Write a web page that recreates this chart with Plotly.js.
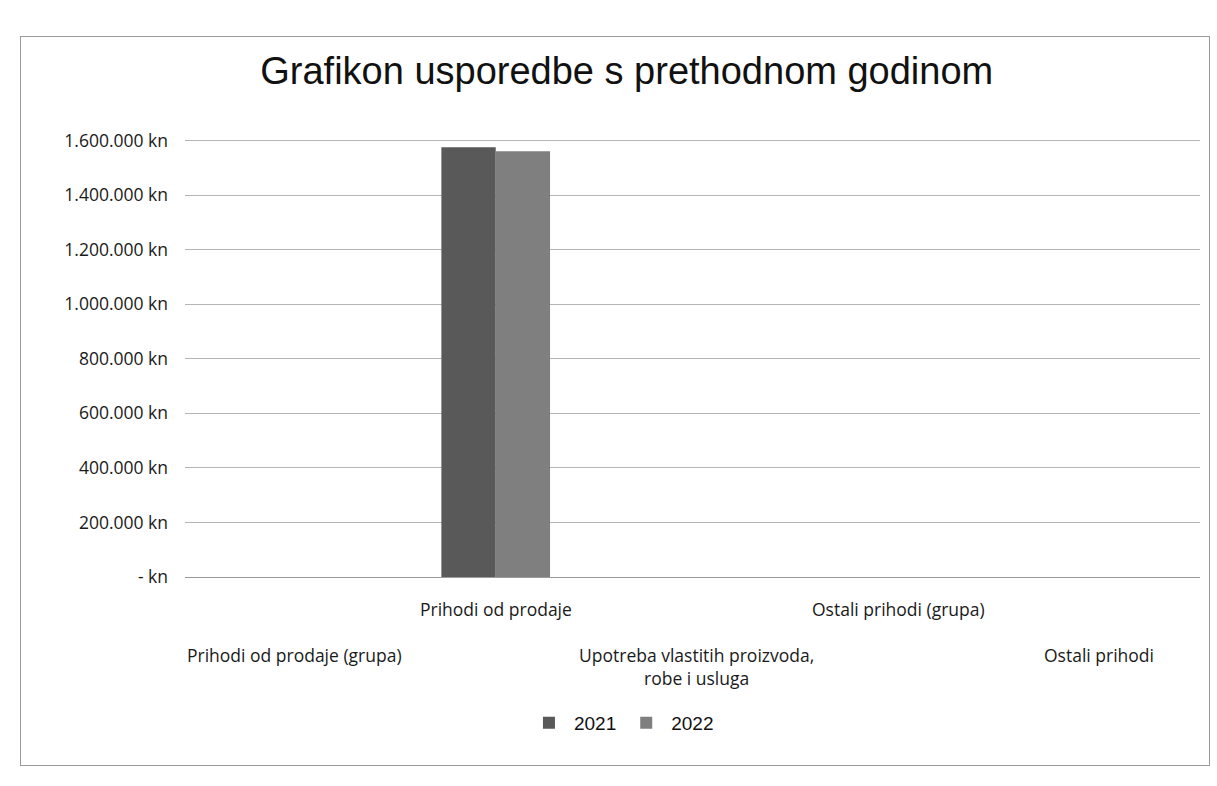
<!DOCTYPE html>
<html>
<head>
<meta charset="utf-8">
<script src="https://cdn.plot.ly/plotly-3.0.1.min.js"></script>
<style>
html,body{margin:0;padding:0;background:#fff;}
#chart{width:1217px;height:786px;position:relative;}
#frame{position:absolute;left:20px;top:36px;width:1190px;height:730px;border:1px solid #9a9a9a;pointer-events:none;box-sizing:border-box;}
</style>
</head>
<body>
<div style="position:relative;width:1217px;height:786px;">
<div id="chart"></div>
<div id="frame"></div>
</div>
<script>
const categories = [
  "Prihodi od prodaje (grupa)",
  "Prihodi od prodaje",
  "Upotreba vlastitih proizvoda,<br>robe i usluga",
  "Ostali prihodi (grupa)",
  "Ostali prihodi"
];
const values2021 = [0, 1575000, 0, 0, 0];
const values2022 = [0, 1560000, 0, 0, 0];
const seriesNames = ["2021", "2022"];
const tickValues = [0, 200000, 400000, 600000, 800000, 1000000, 1200000, 1400000, 1600000];
const tickLabels = ["- kn", "200.000 kn", "400.000 kn", "600.000 kn", "800.000 kn", "1.000.000 kn", "1.200.000 kn", "1.400.000 kn", "1.600.000 kn"];
const labelRows = [1, 0, 1, 0, 1];

const lblFont = {family: "Open Sans, Noto Sans, sans-serif", size: 17.5, color: "#1a1a1a"};

const traces = [
  {type: "bar", name: seriesNames[0], x: categories, y: values2021,
   marker: {color: "#595959"}},
  {type: "bar", name: seriesNames[1], x: categories, y: values2022,
   marker: {color: "#7f7f7f"}}
];

const annotations = categories.map((c, i) => ({
  x: c, xref: "x", yref: "paper",
  y: labelRows[i] === 0 ? -0.04 : -0.145,
  yanchor: "top", xanchor: "center",
  text: c, showarrow: false, font: lblFont, align: "center"
}));

const layout = {
  width: 1217, height: 786,
  margin: {l: 185, r: 17, t: 135, b: 209},
  paper_bgcolor: "#ffffff", plot_bgcolor: "#ffffff",
  title: {text: "Grafikon usporedbe s prethodnom godinom",
          font: {family: "Liberation Sans, Arial, sans-serif", size: 38, color: "#111"},
          x: 0.515, xanchor: "center", y: 0.91, yanchor: "middle"},
  barmode: "group",
  bargap: 0.46,
  bargroupgap: 0,
  xaxis: {type: "category", showticklabels: false, showgrid: false, zeroline: false,
          showline: false, ticks: ""},
  yaxis: {range: [0, 1620000], tickvals: tickValues, ticktext: tickLabels,
          showgrid: true, gridcolor: "#b5b5b5", gridwidth: 1, zeroline: true,
          zerolinecolor: "#9a9a9a", zerolinewidth: 1,
          ticks: "", ticklabelstandoff: 16,
          tickfont: {family: "Open Sans, Noto Sans, sans-serif", size: 17.5, color: "#1a1a1a"}},
  legend: {orientation: "h", x: 0.43, xanchor: "center", y: -0.33, yanchor: "middle",
           font: {family: "Liberation Sans, Arial, sans-serif", size: 19, color: "#111"},
           itemwidth: 40, tracegroupgap: 10},
  annotations: annotations,
  showlegend: true
};

Plotly.newPlot("chart", traces, layout, {displayModeBar: false, staticPlot: true});
</script>
</body>
</html>
